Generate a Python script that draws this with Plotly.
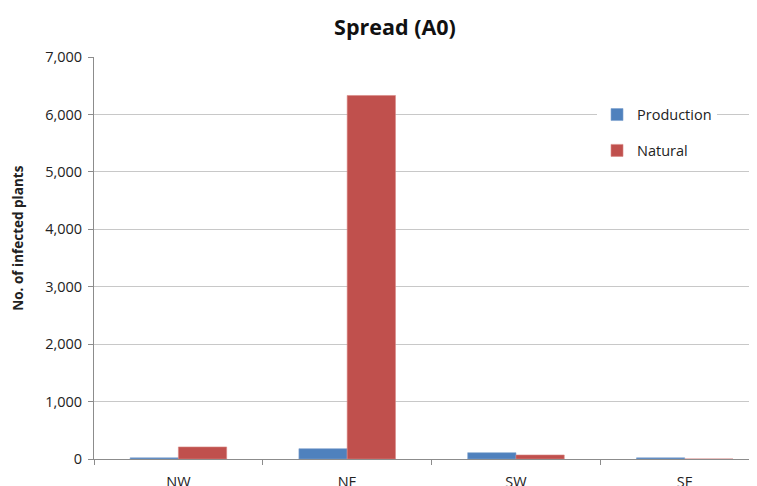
import plotly.graph_objects as go

categories = ["NW", "NE", "SW", "SE"]
production = [20, 180, 110, 20]
natural = [210, 6330, 70, 0]
y_ticks = [0, 1000, 2000, 3000, 4000, 5000, 6000, 7000]
y_tick_labels = ["0", "1,000", "2,000", "3,000", "4,000", "5,000", "6,000", "7,000"]
y_title = "No. of infected plants"

FONT = "'Open Sans', sans-serif"

fig = go.Figure()
fig.add_trace(go.Bar(
    x=categories, y=production, name="Production", legendgroup="a",
    marker=dict(color="#4F81BD", line=dict(color="#7fa3cf", width=0.6)),
))
fig.add_trace(go.Bar(
    x=categories, y=natural, name="Natural", legendgroup="b",
    marker=dict(color="#C0504D", line=dict(color="#d98683", width=0.6)),
))

# page body has an 8px default margin, so the figure is laid out in that offset frame
fig.update_layout(
    width=749, height=478,
    margin=dict(l=86, r=0, t=49.4, b=26.7, pad=0),
    paper_bgcolor="white", plot_bgcolor="white",
    font=dict(family=FONT, size=15, color="#222222"),
    title=dict(text="<b>Spread (A0)</b>", x=0.5167, xanchor="center", y=0.96, yanchor="middle",
               font=dict(size=21.5, family=FONT, color="#111111")),
    barmode="group", bargap=0.428, bargroupgap=0,
    legend=dict(x=0.7587, xanchor="left", y=0.8965, yanchor="top",
                bgcolor="white", font=dict(size=14.5, family=FONT),
                tracegroupgap=14, traceorder="grouped", itemwidth=30),
    showlegend=True,
    annotations=[dict(
        text="<b>" + y_title + "</b>", textangle=-90, showarrow=False,
        xref="paper", yref="paper", x=-0.1146, y=0.548, xanchor="center", yanchor="middle",
        font=dict(size=13.5, family=FONT, color="#222222"),
    )],
)
fig.update_xaxes(
    type="category", range=[-0.5, 3.428], automargin=False,
    showline=True, linecolor="#8c8c8c", linewidth=1,
    ticks="outside", tickson="boundaries", ticklen=5, tickcolor="#8c8c8c",
    showgrid=False, tickfont=dict(size=14.5, family=FONT), ticklabelstandoff=10,
)
fig.update_yaxes(
    range=[0, 7000], tickvals=y_ticks, ticktext=y_tick_labels, automargin=False,
    showline=True, linecolor="#8c8c8c", linewidth=1,
    ticks="outside", ticklen=5, tickcolor="#8c8c8c",
    showgrid=True, gridcolor="#c8c8c8", gridwidth=1, zeroline=False,
    tickfont=dict(size=14.5, family=FONT), ticklabelstandoff=3,
)

fig.write_html("out.html")
